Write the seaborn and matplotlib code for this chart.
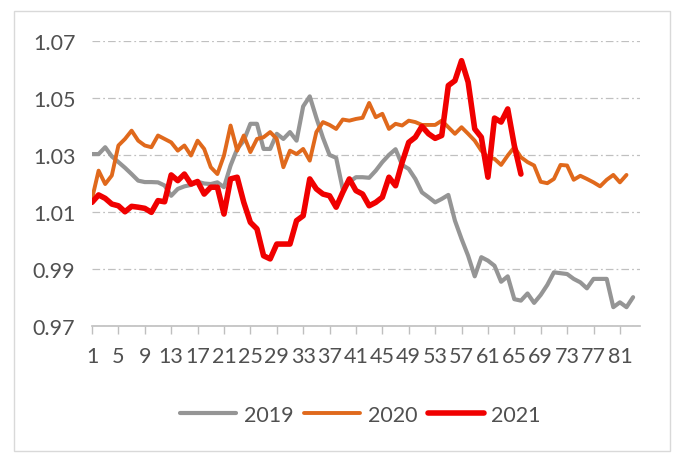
import pandas as pd
import seaborn as sns
import matplotlib.pyplot as plt
from matplotlib.patches import Rectangle

# values (weekly index)
vals_2019 = [1.0303, 1.0303, 1.0327, 1.0295, 1.0275, 1.0255, 1.0233, 1.0210, 1.0205, 1.0205,
             1.0204, 1.0193, 1.0157, 1.0181, 1.0190, 1.0195, 1.0206, 1.0200, 1.0198, 1.0204,
             1.0187, 1.0263, 1.0321, 1.0350, 1.0409, 1.0409, 1.0321, 1.0321, 1.0374, 1.0356,
             1.0380, 1.0350, 1.0470, 1.0505, 1.0430, 1.0360, 1.0300, 1.0290, 1.0180, 1.0205,
             1.0222, 1.0222, 1.0220, 1.0245, 1.0275, 1.0300, 1.0320, 1.0265, 1.0251, 1.0216,
             1.0169, 1.0152, 1.0134, 1.0146, 1.0160, 1.0070, 1.0006, 0.9947, 0.9875, 0.9942,
             0.9930, 0.9912, 0.9856, 0.9875, 0.9795, 0.9790, 0.9815, 0.9782, 0.9810, 0.9845,
             0.9889, 0.9886, 0.9883, 0.9866, 0.9854, 0.9833, 0.9866, 0.9866, 0.9866, 0.9767,
             0.9784, 0.9767, 0.9802]
vals_2020 = [1.0146, 1.0245, 1.0198, 1.0228, 1.0333, 1.0356, 1.0385, 1.0350, 1.0333, 1.0327,
             1.0368, 1.0356, 1.0344, 1.0315, 1.0333, 1.0298, 1.0350, 1.0321, 1.0257, 1.0233,
             1.0298, 1.0403, 1.0315, 1.0368, 1.0310, 1.0356, 1.0362, 1.0380, 1.0356, 1.0257,
             1.0315, 1.0303, 1.0321, 1.0280, 1.0380, 1.0415, 1.0405, 1.0391, 1.0424, 1.0420,
             1.0426, 1.0430, 1.0482, 1.0432, 1.0444, 1.0391, 1.0409, 1.0403, 1.0420, 1.0415,
             1.0405, 1.0405, 1.0405, 1.0420, 1.0397, 1.0374, 1.0397, 1.0374, 1.0350, 1.0315,
             1.0292, 1.0286, 1.0265, 1.0298, 1.0327, 1.0292, 1.0275, 1.0263, 1.0206, 1.0201,
             1.0216, 1.0265, 1.0263, 1.0213, 1.0227, 1.0216, 1.0204, 1.0190, 1.0213, 1.0230,
             1.0204, 1.0230]
vals_2021 = [1.0134, 1.0160, 1.0148, 1.0128, 1.0122, 1.0101, 1.0120, 1.0117, 1.0113, 1.0099,
             1.0140, 1.0136, 1.0230, 1.0210, 1.0233, 1.0198, 1.0207, 1.0163, 1.0187, 1.0187,
             1.0093, 1.0216, 1.0222, 1.0134, 1.0064, 1.0041, 0.9947, 0.9936, 0.9988, 0.9988,
             0.9988, 1.0070, 1.0087, 1.0216, 1.0181, 1.0163, 1.0157, 1.0117, 1.0169, 1.0216,
             1.0175, 1.0163, 1.0122, 1.0134, 1.0152, 1.0222, 1.0192, 1.0274, 1.0344, 1.0362,
             1.0400, 1.0374, 1.0358, 1.0368, 1.0543, 1.0560, 1.0630, 1.0555, 1.0391, 1.0362,
             1.0222, 1.0429, 1.0415, 1.0461, 1.0333, 1.0233]

years = ["2019", "2020", "2021"]
colors = ["#959595", "#E0691C", "#F00000"]
widths = [3.0, 2.8, 4.0]
y_ticks = [0.97, 0.99, 1.01, 1.03, 1.05, 1.07]
x_ticks = list(range(1, 82, 4))

frames = []
for yr, vals in zip(years, [vals_2019, vals_2020, vals_2021]):
    frames.append(pd.DataFrame({"week": range(1, len(vals) + 1), "value": vals, "year": yr}))
df = pd.concat(frames, ignore_index=True)

sns.set_theme(style="white")
plt.rcParams['font.family'] = ['Lato', 'DejaVu Sans']
plt.rcParams['lines.scale_dashes'] = False
text_color = "#505050"
fs = 15.5

fig = plt.figure(figsize=(6.83, 4.56), dpi=100)
ax = fig.add_axes([0.1347, 0.2822, 0.8019, 0.6264])

for yr, col, lw in zip(years, colors, widths):
    sns.lineplot(data=df[df["year"] == yr], x="week", y="value", color=col,
                 linewidth=lw, label=yr, ax=ax, legend=False)

ax.set_xlim(1, 84)
ax.set_ylim(0.97, 1.07)
ax.set_yticks(y_ticks)
ax.set_yticklabels([f"{v:.2f}" for v in y_ticks])
ax.set_xticks(x_ticks)
ax.set_xticklabels([str(v) for v in x_ticks])
ax.set_xlabel("")
ax.set_ylabel("")

ax.yaxis.grid(True, color="#c0c0c0", linewidth=0.9, linestyle=(0, (5.5, 2.2, 1.3, 2.2)))
ax.xaxis.grid(False)
ax.set_axisbelow(True)
for s in ["left", "right", "top"]:
    ax.spines[s].set_visible(False)
ax.spines["bottom"].set_color("#bfbfbf")
ax.spines["bottom"].set_linewidth(1.2)

ax.tick_params(axis="y", length=0, pad=12, labelsize=fs, labelcolor=text_color)
ax.tick_params(axis="x", bottom=True, length=6, width=1, color="#bfbfbf", direction="out",
               pad=8, labelsize=fs, labelcolor=text_color)

handles, labels = ax.get_legend_handles_labels()
fig.legend(handles, labels, loc="center", bbox_to_anchor=(0.528, 0.088), ncol=3,
           frameon=False, fontsize=fs, labelcolor=text_color, handlelength=2.6,
           handletextpad=0.35, columnspacing=0.5)

# chart border
fig.patches.append(Rectangle((14 / 683, 4 / 456), 656 / 683, 440 / 456, transform=fig.transFigure,
                             fill=False, edgecolor="#d9d9d9", linewidth=1))

fig.savefig("out.png", dpi=100)
